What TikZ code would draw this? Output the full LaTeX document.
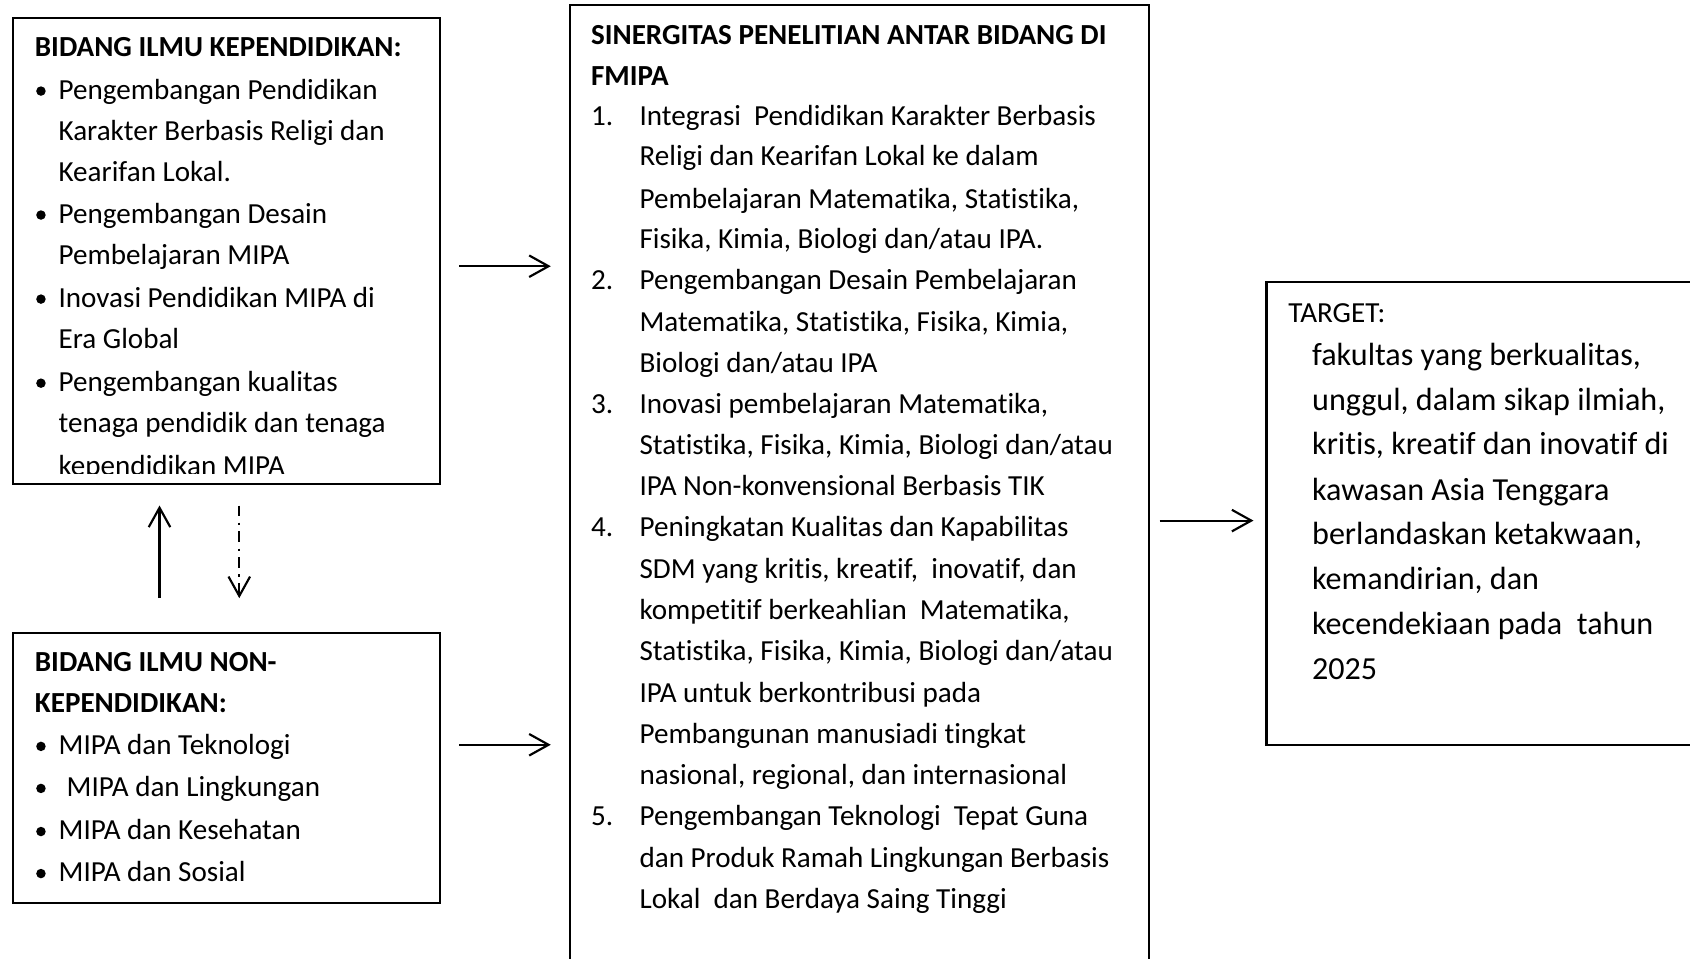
\documentclass[tikz,border=0pt]{standalone}
\usepackage{fontspec}
\setmainfont{Carlito}[RawFeature={-liga,-clig,-dlig}]
\usetikzlibrary{arrows.meta,fit}
\tikzset{
  box/.style={draw, line width=1pt, inner sep=0pt},
  txt/.style={anchor=base west, inner sep=0pt, font=\fontsize{13.5}{16}\selectfont},
  ttl/.style={anchor=base west, inner sep=0pt, font=\fontsize{13.5}{16}\selectfont\bfseries},
  big/.style={anchor=base west, inner sep=0pt, font=\fontsize{14.9}{18}\selectfont},
  arr/.style={-{Straight Barb[length=9pt,width=10pt]}, line width=1pt},
  dotarr/.style={arr, dash pattern=on 5pt off 3pt on 1pt off 3pt},
}
\newcommand{\bulletdot}[2]{\fill (#1,#2) circle[radius=2.2pt];}
\begin{document}
\begin{tikzpicture}[x=0.5pt,y=-0.5pt]
\useasboundingbox (0,0) rectangle (1568,889);
\fill[white] (0,0) rectangle (1568,889);

% boxes
\node[box, fit={(12,17)(408,449)}] (b1) {};
\node[box, fit={(12,587)(408,838)}] (b2) {};
\node[box, fit={(529,5)(1066,910)}] (c) {};
\node[box, fit={(1175,262)(1600,691)}] (t) {};

% box 1 text (clipped near the frame)
\begin{scope}
\clip (12,17) rectangle (408,439.5);
\node[ttl] (b1t) at (32,52) {BIDANG ILMU KEPENDIDIKAN:};
\foreach \y/\s [count=\i] in {92/{Pengembangan Pendidikan},130/{Karakter Berbasis Religi dan},168/{Kearifan Lokal.},207/{Pengembangan Desain},245/{Pembelajaran MIPA},285/{Inovasi Pendidikan MIPA di},323/{Era Global},363/{Pengembangan kualitas},401/{tenaga pendidik dan tenaga},441/{kependidikan MIPA}}
  {\node[txt] (b1l\i) at (54,\y) {\s};}
\foreach \y in {92,207,285,363} {\bulletdot{38}{\y-7.5}}
\end{scope}

% box 2 text
\node[ttl] (b2t1) at (32,623) {BIDANG ILMU NON-};
\node[ttl] (b2t2) at (32,661) {KEPENDIDIKAN:};
\node[txt] (b2l1) at (54,700) {MIPA dan Teknologi};
\node[txt] (b2l2) at (61.5,739) {MIPA dan Lingkungan};
\node[txt] (b2l3) at (54,779) {MIPA dan Kesehatan};
\node[txt] (b2l4) at (54,818) {MIPA dan Sosial};
\foreach \y in {700,739,779,818} {\bulletdot{38}{\y-7.5}}

% centre box text
\node[ttl] (ct1) at (548,41) {SINERGITAS PENELITIAN ANTAR BIDANG DI};
\node[ttl] (ct2) at (548,79) {FMIPA};
\foreach \y/\n [count=\i] in {116/1.,269/2.,384/3.,498/4.,766/5.}
  {\node[txt] (cn\i) at (548,\y) {\n};}
\foreach \y/\s [count=\i] in {116/{Integrasi~ Pendidikan Karakter Berbasis},154/{Religi dan Kearifan Lokal ke dalam},193/{Pembelajaran Matematika, Statistika,},231/{Fisika, Kimia, Biologi dan/atau IPA.},269/{Pengembangan Desain Pembelajaran},308/{Matematika, Statistika, Fisika, Kimia,},346/{Biologi dan/atau IPA},384/{Inovasi pembelajaran Matematika,},422/{Statistika, Fisika, Kimia, Biologi dan/atau},460/{IPA Non-konvensional Berbasis TIK},498/{Peningkatan Kualitas dan Kapabilitas},537/{SDM yang kritis, kreatif,~ inovatif, dan},575/{kompetitif berkeahlian~ Matematika,},613/{Statistika, Fisika, Kimia, Biologi dan/atau},652/{IPA untuk berkontribusi pada},690/{Pembangunan manusiadi tingkat},728/{nasional, regional, dan internasional},766/{Pengembangan Teknologi~ Tepat Guna},805/{dan Produk Ramah Lingkungan Berbasis},843/{Lokal~ dan Berdaya Saing Tinggi}}
  {\node[txt] (cl\i) at (593,\y) {\s};}

% target box text
\node[txt] (tt) at (1195,299) {TARGET:};
\foreach \y/\s [count=\i] in {339/{fakultas yang berkualitas,},381/{unggul, dalam sikap ilmiah,},422/{kritis, kreatif dan inovatif di},464/{kawasan Asia Tenggara},505/{berlandaskan ketakwaan,},547/{kemandirian, dan},589/{kecendekiaan pada~ tahun},630/{2025}}
  {\node[big] (tl\i) at (1217,\y) {\s};}

% connectors
\coordinate (ay1) at (0,247);
\coordinate (ay2) at (0,691);
\coordinate (ay3) at (0,483);
\coordinate (vx1) at (148,0);
\coordinate (vx2) at (222,0);
\draw[arr, shorten <=8.5pt, shorten >=8.5pt] (b1.east |- ay1) -- (c.west |- ay1);
\draw[arr, shorten <=8.5pt, shorten >=8.5pt] (b2.east |- ay2) -- (c.west |- ay2);
\draw[arr, shorten <=4.5pt, shorten >=5.5pt] (c.east |- ay3) -- (t.west |- ay3);
\draw[arr, shorten <=15.5pt, shorten >=9.5pt] (b2.north -| vx1) -- (b1.south -| vx1);
\draw[dotarr, shorten <=9.5pt, shorten >=15.5pt] (b1.south -| vx2) -- (b2.north -| vx2);
\end{tikzpicture}
\end{document}
